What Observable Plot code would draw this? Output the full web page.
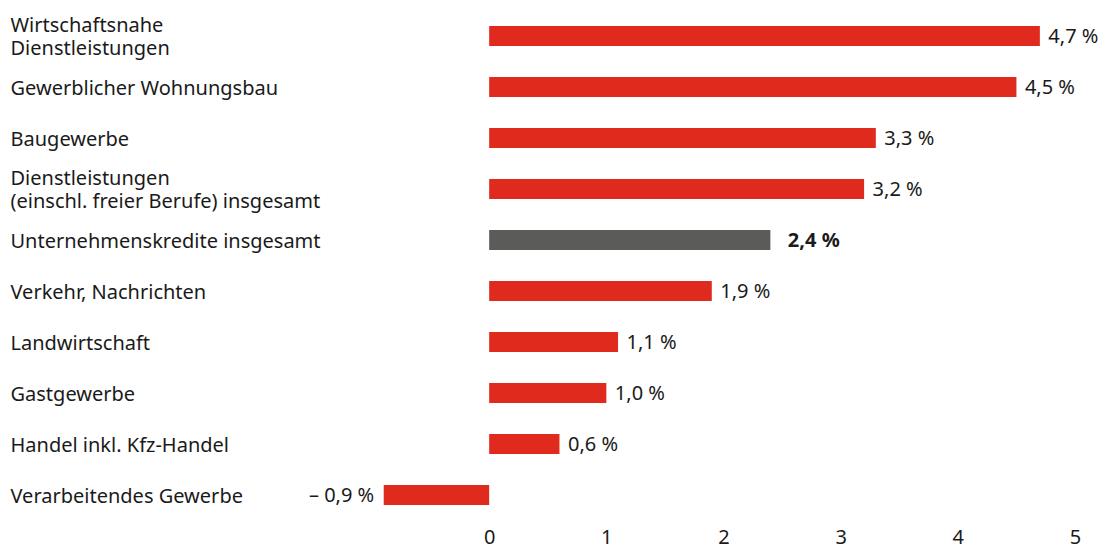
<!DOCTYPE html>
<html>
<head>
<meta charset="utf-8">
<script src="https://cdn.jsdelivr.net/npm/d3@7"></script>
<script src="https://cdn.jsdelivr.net/npm/@observablehq/plot@0.6"></script>
<style>
  html, body { margin: 0; padding: 0; background: #fff; }
  svg { font-family: "Noto Sans", "Open Sans", sans-serif; }
</style>
</head>
<body>
<div id="chart"></div>
<script>
const categories = [
  "Wirtschaftsnahe\nDienstleistungen",
  "Gewerblicher Wohnungsbau",
  "Baugewerbe",
  "Dienstleistungen\n(einschl. freier Berufe) insgesamt",
  "Unternehmenskredite insgesamt",
  "Verkehr, Nachrichten",
  "Landwirtschaft",
  "Gastgewerbe",
  "Handel inkl. Kfz-Handel",
  "Verarbeitendes Gewerbe"
];
const values = [4.7, 4.5, 3.3, 3.2, 2.4, 1.9, 1.1, 1.0, 0.6, -0.9];
const highlighted = [false, false, false, false, true, false, false, false, false, false];
const xTicks = [0, 1, 2, 3, 4, 5];

const data = categories.map((c, i) => ({cat: c, value: values[i], total: highlighted[i]}));
const fmt = v => (v < 0 ? "– " : "") + Math.abs(v).toFixed(1).replace(".", ",") + " %";
const red = "#df2a1d", gray = "#5b5b59", ink = "#1a1a1a";

const chart = Plot.plot({
  width: 1108,
  height: 550,
  marginLeft: 372,
  marginRight: 33,
  marginTop: 8,
  marginBottom: 26,
  style: {fontSize: "20px", color: ink},
  x: {domain: [-1, 5], axis: null},
  y: {domain: categories, paddingInner: 0.6, paddingOuter: 0.3, axis: null},
  marks: [
    Plot.barX(data, {x: "value", y: "cat", fill: d => d.total ? gray : red}),
    Plot.text(data, {
      y: "cat", frameAnchor: "left", dx: -362, textAnchor: "start",
      text: "cat", lineHeight: 1.12, fill: ink, fontSize: 20
    }),
    Plot.text(data.filter(d => d.value >= 0 && !d.total), {
      x: "value", y: "cat", text: d => fmt(d.value), textAnchor: "start", dx: 8,
      fill: ink, fontSize: 20
    }),
    Plot.text(data.filter(d => d.total), {
      x: "value", y: "cat", text: d => fmt(d.value), textAnchor: "start", dx: 17,
      fill: ink, fontSize: 20, fontWeight: "bold"
    }),
    Plot.text(data.filter(d => d.value < 0), {
      x: "value", y: "cat", text: d => fmt(d.value), textAnchor: "end", dx: -10,
      fill: ink, fontSize: 20
    }),
    Plot.axisX({ticks: xTicks, tickSize: 0, tickPadding: 5, tickFormat: d => String(d), label: null, fontSize: 20, fill: ink})
  ]
});
document.getElementById("chart").appendChild(chart);
</script>
</body>
</html>
